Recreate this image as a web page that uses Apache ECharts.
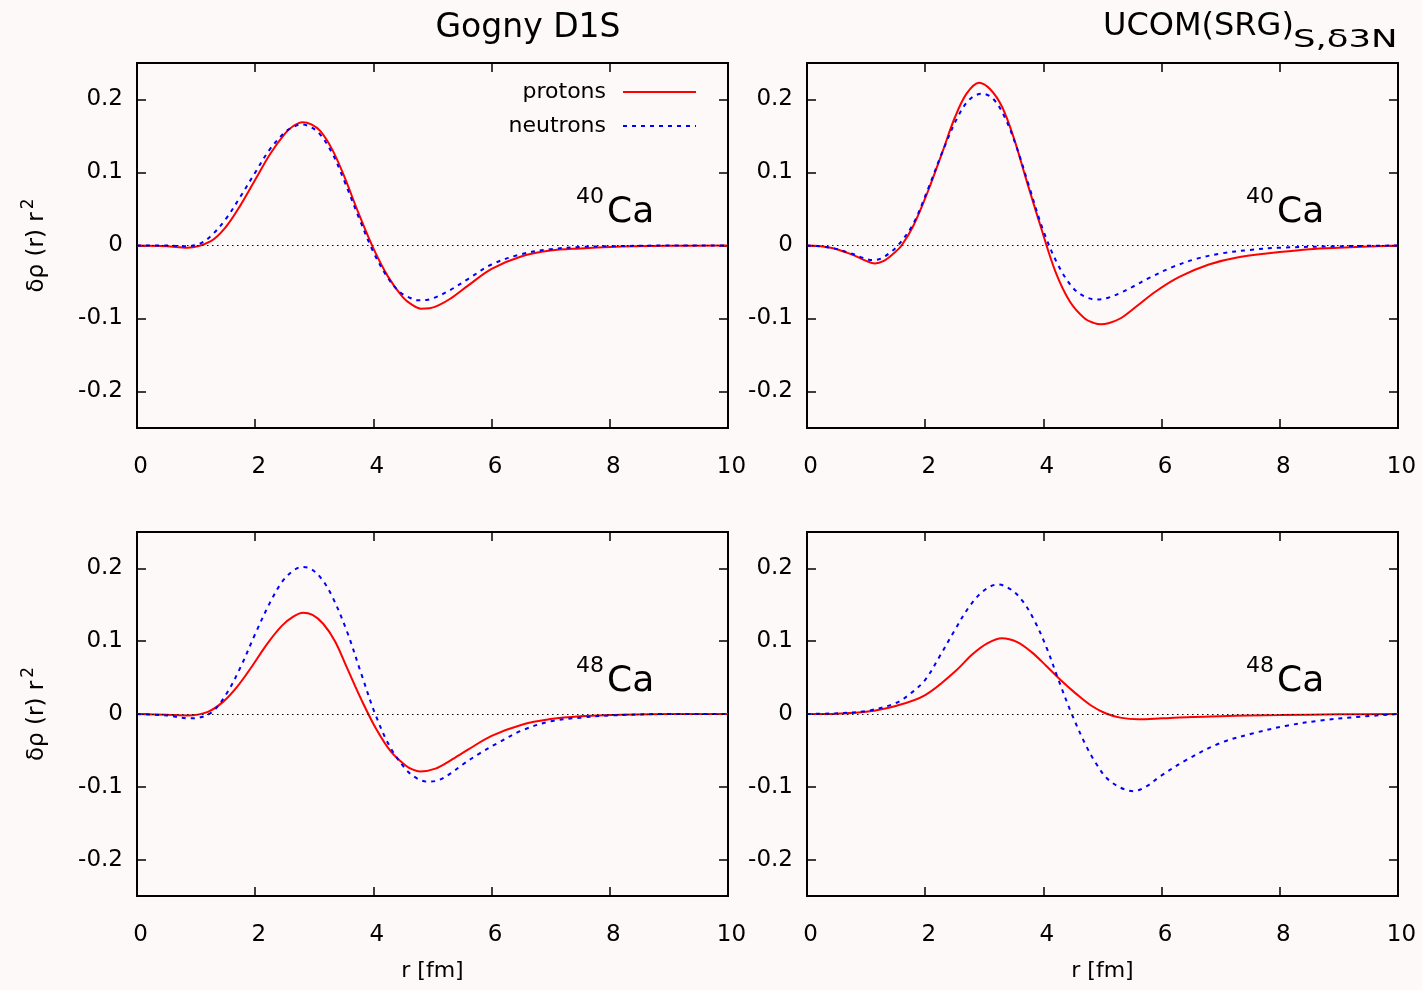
<!DOCTYPE html>
<html><head><meta charset="utf-8">
<script src="https://cdn.jsdelivr.net/npm/echarts@6/dist/echarts.min.js"></script>
<style>html,body{margin:0;padding:0;background:#fdf9f8}#c{width:1422px;height:990px}</style>
</head><body><div id="c"></div>
<script>
// ---- data (r in fm, values of δρ(r) r²) ----
const yTickValues = [-0.2,-0.1,0,0.1,0.2];
const panelTitles = ['Gogny D1S', 'UCOM(SRG)'];
const titleSub = 'S,δ3N';
const nucleusLabels = [['40','Ca'],['40','Ca'],['48','Ca'],['48','Ca']];
const seriesNames = ['protons','neutrons'];

// 40Ca, Gogny D1S
const rProtonsCa40Gogny = [0,0.5,0.85,1.25,1.5,1.75,2,2.25,2.5,2.65,2.8,2.95,3.1,3.3,3.5,3.75,4,4.25,4.5,4.65,4.8,4.95,5.1,5.3,5.6,6,6.5,7,7.5,8,9,10];
const protonsCa40Gogny  = [0,-0.001,-0.003,0.006,0.025,0.055,0.09,0.125,0.153,0.164,0.169,0.166,0.157,0.132,0.096,0.044,-0.004,-0.043,-0.071,-0.081,-0.0865,-0.086,-0.082,-0.073,-0.055,-0.032,-0.015,-0.007,-0.004,-0.002,-0.0005,0];
const rNeutronsCa40Gogny = [0,0.5,0.8,1.05,1.25,1.5,1.75,2,2.25,2.5,2.64,2.78,2.92,3.08,3.3,3.5,3.75,4,4.25,4.45,4.6,4.75,4.9,5.05,5.3,5.6,6,6.5,7,7.5,8,9,10];
const neutronsCa40Gogny  = [0,0,-0.001,0.002,0.013,0.036,0.067,0.1,0.132,0.155,0.162,0.166,0.163,0.154,0.127,0.09,0.039,-0.009,-0.045,-0.064,-0.071,-0.075,-0.0745,-0.071,-0.061,-0.046,-0.026,-0.012,-0.005,-0.002,-0.001,0,0];
// 40Ca, UCOM(SRG)
const rProtonsCa40Ucom = [0,0.4,0.75,1,1.15,1.3,1.45,1.6,1.8,2.05,2.3,2.5,2.7,2.91,3.1,3.3,3.5,3.7,3.95,4.2,4.45,4.7,4.85,4.97,5.1,5.3,5.55,5.9,6.3,6.8,7.3,8,8.5,9,10];
const protonsCa40Ucom  = [0,-0.003,-0.012,-0.021,-0.0245,-0.021,-0.012,0,0.027,0.075,0.13,0.175,0.208,0.223,0.214,0.19,0.147,0.093,0.027,-0.035,-0.077,-0.1,-0.106,-0.108,-0.1065,-0.1,-0.085,-0.063,-0.043,-0.026,-0.016,-0.009,-0.005,-0.003,0];
const rNeutronsCa40Ucom = [0,0.4,0.75,0.95,1.11,1.25,1.4,1.54,1.8,2.05,2.3,2.55,2.75,2.96,3.15,3.35,3.55,3.75,4,4.25,4.5,4.7,4.9,5.1,5.3,5.5,5.8,6.2,6.6,7,7.5,8,9,10];
const neutronsCa40Ucom  = [0,-0.003,-0.011,-0.017,-0.02,-0.018,-0.01,0,0.03,0.078,0.13,0.176,0.2,0.208,0.201,0.175,0.134,0.083,0.02,-0.027,-0.058,-0.07,-0.074,-0.0715,-0.065,-0.057,-0.044,-0.029,-0.018,-0.011,-0.006,-0.003,-0.001,0];
// 48Ca, Gogny D1S
const rProtonsCa48Gogny = [0,0.5,0.85,1.2,1.46,1.7,1.95,2.2,2.45,2.65,2.81,2.97,3.15,3.35,3.55,3.8,4.05,4.3,4.55,4.67,4.79,5.05,5.3,5.6,6,6.5,7,7.5,8,9,10];
const protonsCa48Gogny  = [0,-0.001,-0.002,0.003,0.017,0.038,0.066,0.096,0.121,0.134,0.139,0.136,0.124,0.1,0.064,0.019,-0.021,-0.052,-0.071,-0.0765,-0.079,-0.075,-0.064,-0.049,-0.03,-0.015,-0.007,-0.003,-0.0015,0,0];
const rNeutronsCa48Gogny = [0,0.5,0.9,1.24,1.5,1.75,2,2.25,2.45,2.63,2.79,2.95,3.12,3.3,3.55,3.8,4.03,4.28,4.56,4.75,4.92,5.1,5.3,5.5,5.8,6.1,6.5,7,7.5,8,9,10];
const neutronsCa48Gogny  = [0,-0.002,-0.006,0.001,0.026,0.064,0.11,0.153,0.181,0.196,0.202,0.199,0.186,0.162,0.114,0.054,0,-0.045,-0.077,-0.089,-0.093,-0.091,-0.082,-0.07,-0.054,-0.04,-0.023,-0.01,-0.005,-0.002,0,0];
// 48Ca, UCOM(SRG)
const rProtonsCa48Ucom = [0,0.5,1,1.5,2,2.5,2.8,3.05,3.3,3.55,3.8,4.05,4.3,4.55,4.8,5.05,5.3,5.6,6,6.5,7,7.5,8,9,10];
const protonsCa48Ucom  = [0,0.0005,0.003,0.011,0.026,0.058,0.082,0.097,0.104,0.099,0.085,0.066,0.046,0.028,0.012,0.001,-0.005,-0.0073,-0.006,-0.004,-0.003,-0.002,-0.0015,-0.0005,0];
const rNeutronsCa48Ucom = [0,0.5,1,1.5,1.75,2,2.25,2.5,2.75,3,3.23,3.45,3.65,3.85,4.05,4.25,4.48,4.73,4.9,5.07,5.3,5.52,5.75,5.97,6.42,6.99,7.55,8.12,8.68,9.24,10];
const neutronsCa48Ucom  = [0,0.001,0.004,0.015,0.028,0.047,0.08,0.115,0.148,0.17,0.178,0.171,0.155,0.128,0.092,0.048,0,-0.045,-0.069,-0.088,-0.101,-0.106,-0.099,-0.086,-0.063,-0.04,-0.0265,-0.016,-0.009,-0.0045,0];

const panels = [
  [[rProtonsCa40Gogny, protonsCa40Gogny], [rNeutronsCa40Gogny, neutronsCa40Gogny]],
  [[rProtonsCa40Ucom, protonsCa40Ucom], [rNeutronsCa40Ucom, neutronsCa40Ucom]],
  [[rProtonsCa48Gogny, protonsCa48Gogny], [rNeutronsCa48Gogny, neutronsCa48Gogny]],
  [[rProtonsCa48Ucom, protonsCa48Ucom], [rNeutronsCa48Ucom, neutronsCa48Ucom]]
];

// ---- layout & style ----
const FONT = 'DejaVu Sans';
const BG = '#fdf9f8';
const grids = [
  {left:137, top:63, width:591, height:365},
  {left:807, top:63, width:591, height:365},
  {left:137, top:532, width:591, height:364},
  {left:807, top:532, width:591, height:364}
];

const pairs = (xs, ys) => xs.map((x,i) => [x, ys[i]]);
const fmtY = v => { const r = Math.round(v*10)/10; return r === 0 ? '0' : r.toFixed(1); };
const tickStyle = {show:true, inside:true, length:9, lineStyle:{color:'#000', width:1.5}};

const option = {
  backgroundColor: BG,
  animation: false,
  textStyle: {fontFamily: FONT},
  grid: grids.map(g => Object.assign({show:true, borderColor:'#000', borderWidth:2, backgroundColor:'transparent', containLabel:false}, g)),
  xAxis: [], yAxis: [], series: [],
  legend: {
    data: seriesNames,
    orient: 'vertical',
    align: 'right',
    right: 725, top: 81,
    padding: 0,
    itemWidth: 73, itemHeight: 14, itemGap: 12,
    itemStyle: {opacity: 0},
    textStyle: {fontFamily: FONT, fontSize: 22, color:'#000', lineHeight: 22, padding:[0,12,0,0]}
  },
  graphic: []
};

grids.forEach((g, i) => {
  const bottomRow = i >= 2, leftCol = i % 2 === 0;
  option.xAxis.push({
    type:'value', gridIndex:i, position:'bottom', min:0, max:10, interval:2,
    axisLine:{show:false, onZero:false}, splitLine:{show:false},
    axisTick: tickStyle,
    axisLabel:{show:true, color:'#000', fontSize:23, fontFamily:FONT, margin:28, padding:[0,0,0,7], showMinLabel:true, showMaxLabel:true},
    name: bottomRow ? 'r [fm]' : '', nameLocation:'middle', nameGap:64,
    nameTextStyle:{color:'#000', fontSize:22, fontFamily:FONT}
  });
  option.xAxis.push({
    type:'value', gridIndex:i, position:'top', min:0, max:10, interval:2,
    axisLine:{show:false, onZero:false}, splitLine:{show:false},
    axisTick: tickStyle,
    axisLabel:{show:false}
  });
  option.yAxis.push({
    type:'value', gridIndex:i, position:'left', min:-0.25, max:0.25,
    axisLine:{show:false, onZero:false}, splitLine:{show:false},
    axisTick: Object.assign({customValues:yTickValues}, tickStyle),
    axisLabel:{show:true, customValues:yTickValues, formatter:fmtY, color:'#000', fontSize:23, fontFamily:FONT, margin:14},
    name: leftCol ? '{a|δρ (r) r}{s|2}' : '', nameLocation:'middle', nameGap:88, nameRotate:90,
    nameTextStyle:{color:'#000', fontFamily:FONT, rich:{
      a:{fontSize:23, fontFamily:FONT, color:'#000', lineHeight:23, verticalAlign:'bottom'},
      s:{fontSize:17, fontFamily:FONT, color:'#000', lineHeight:17, verticalAlign:'bottom', padding:[0,0,12,3]}
    }}
  });
  option.yAxis.push({
    type:'value', gridIndex:i, position:'right', min:-0.25, max:0.25,
    axisLine:{show:false, onZero:false}, splitLine:{show:false},
    axisTick: Object.assign({customValues:yTickValues}, tickStyle),
    axisLabel:{show:false}
  });
  const [[rp, pro], [rn, neu]] = panels[i];
  option.series.push({
    name: seriesNames[0], type:'line', xAxisIndex:2*i, yAxisIndex:2*i,
    data: pairs(rp, pro), showSymbol:false, symbol:'none', smooth:0.35, z:3,
    lineStyle:{color:'#ff0000', width:2}, itemStyle:{color:'#ff0000'},
    markLine:{silent:true, symbol:'none', label:{show:false}, animation:false,
      lineStyle:{color:'#000', width:1, type:[1.5,3.5]}, data:[{yAxis:0}]}
  });
  option.series.push({
    name: seriesNames[1], type:'line', xAxisIndex:2*i, yAxisIndex:2*i,
    data: pairs(rn, neu), showSymbol:false, symbol:'none', smooth:0.35, z:4,
    lineStyle:{color:'#0000ff', width:2, type:[4,5]}, itemStyle:{color:'#0000ff'}
  });
  const [mass, el] = nucleusLabels[i];
  const dx = leftCol ? 0 : 670, dy = bottomRow ? 469 : 0;
  option.graphic.push({type:'text', x:576+dx, y:197+dy, style:{text:mass, font:'22px "DejaVu Sans"', fill:'#000', align:'left', verticalAlign:'middle'}});
  option.graphic.push({type:'text', x:607+dx, y:213+dy, style:{text:el, font:'36px "DejaVu Sans"', fill:'#000', align:'left', verticalAlign:'middle'}});
});

option.graphic.push({type:'text', x:528, y:28, style:{text:panelTitles[0], font:'33px "DejaVu Sans"', fill:'#000', align:'center', verticalAlign:'middle'}});
option.graphic.push({type:'text', x:1103, y:27, style:{text:panelTitles[1], font:'32px "DejaVu Sans"', fill:'#000', align:'left', verticalAlign:'middle'}});
option.graphic.push({type:'text', x:1293, y:40, scaleX:1.42, style:{text:titleSub, font:'25px "DejaVu Sans"', fill:'#000', align:'left', verticalAlign:'middle'}});

const chart = echarts.init(document.getElementById('c'), null, {renderer:'canvas'});
chart.setOption(option);
</script></body></html>
